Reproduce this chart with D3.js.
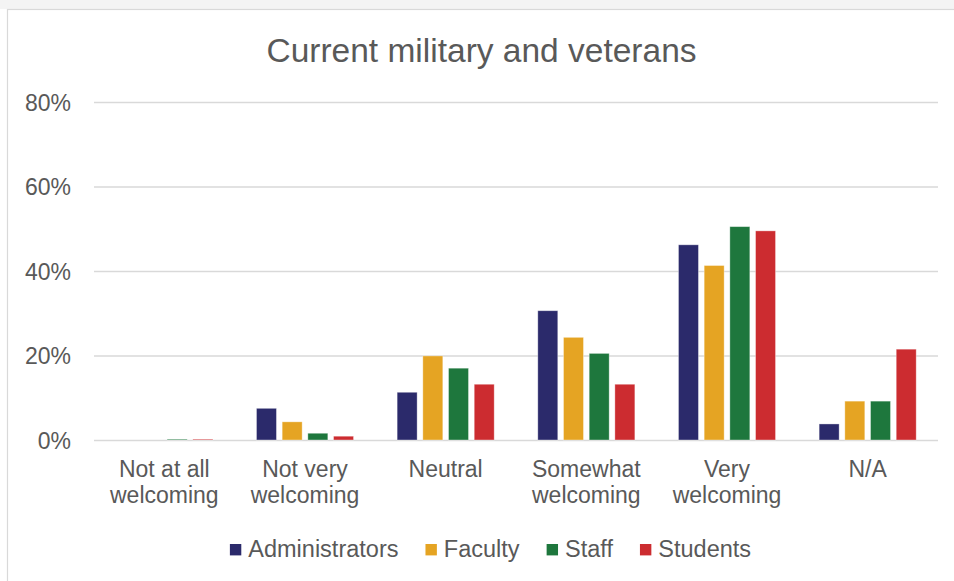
<!DOCTYPE html>
<html>
<head>
<meta charset="utf-8">
<script src="https://cdn.jsdelivr.net/npm/d3@7"></script>
<style>
  html, body { margin: 0; padding: 0; background: #ffffff; }
  svg { display: block; }
  text { font-family: "Liberation Sans", Arial, sans-serif; fill: #595959; }
</style>
</head>
<body>
<svg id="chart" width="954" height="581"></svg>
<script>
const title = "Current military and veterans";
const categories = [
  ["Not at all", "welcoming"],
  ["Not very", "welcoming"],
  ["Neutral"],
  ["Somewhat", "welcoming"],
  ["Very", "welcoming"],
  ["N/A"]
];
const seriesNames = ["Administrators", "Faculty", "Staff", "Students"];
const seriesColors = ["#2b2a6b", "#e5a423", "#1e773d", "#cc2c30"];
const administrators = [0, 7.5, 11.3, 30.6, 46.2, 3.8];
const faculty = [0, 4.3, 19.9, 24.3, 41.3, 9.2];
const staff = [0.2, 1.6, 17.0, 20.5, 50.5, 9.2];
const students = [0.2, 0.9, 13.2, 13.2, 49.5, 21.5];
const yTicks = [0, 20, 40, 60, 80];

const seriesValues = [administrators, faculty, staff, students];
const catKeys = categories.map(c => c.join(" "));

const svg = d3.select("#chart");
const W = 954, H = 581;

// background frame
svg.append("rect").attr("x", 0).attr("y", 0).attr("width", W).attr("height", H).attr("fill", "#ffffff");
svg.append("rect").attr("x", 0).attr("y", 0).attr("width", W).attr("height", 9).attr("fill", "#f4f4f4");
svg.append("rect").attr("x", 7.5).attr("y", 9.5).attr("width", W + 20).attr("height", H + 20)
  .attr("fill", "#ffffff").attr("stroke", "#d9d9d9").attr("stroke-width", 1.2);

const plotLeft = 94, plotRight = 938, plotTop = 102, plotBottom = 440;

const x0 = d3.scaleBand().domain(catKeys).range([plotLeft, plotRight])
  .paddingInner(0.31).paddingOuter(0.155);
const x1 = d3.scaleBand().domain(seriesNames).range([0, x0.bandwidth()])
  .paddingInner(0.222).paddingOuter(0);
const y = d3.scaleLinear().domain([0, 80]).range([plotBottom, plotTop]);

// title
svg.append("text").attr("x", 481.5).attr("y", 61.5).attr("text-anchor", "middle")
  .style("font-size", "33.5px").text(title);

// gridlines
const yAxis = d3.axisLeft(y).tickValues(yTicks).tickSize(-(plotRight - plotLeft))
  .tickFormat(d => d + "%").tickPadding(23);
const gy = svg.append("g").attr("transform", `translate(${plotLeft},0)`).call(yAxis);
gy.select(".domain").remove();
gy.selectAll(".tick line").attr("stroke", "#d9d9d9").attr("stroke-width", 1.4);
gy.selectAll(".tick text").style("font-size", "23px").style("font-family", "'Liberation Sans', Arial, sans-serif")
  .attr("fill", "#595959").attr("dy", "8").attr("x", -(plotLeft - 71));

// bars
const groups = svg.append("g").selectAll("g").data(catKeys).join("g")
  .attr("transform", d => `translate(${x0(d)},0)`);
groups.selectAll("rect").data((d, ci) => seriesNames.map((s, si) => ({ s, si, v: seriesValues[si][ci] })))
  .join("rect")
  .attr("x", d => x1(d.s))
  .attr("width", x1.bandwidth())
  .attr("y", d => y(d.v))
  .attr("height", d => y(0) - y(d.v))
  .attr("fill", d => seriesColors[d.si])
  .attr("stroke", "#ffffff").attr("stroke-opacity", 0.45).attr("stroke-width", 0.8);

// category labels
const xAxis = svg.append("g");
categories.forEach((lines, i) => {
  const cx = x0(catKeys[i]) + x0.bandwidth() / 2;
  const t = xAxis.append("text").attr("text-anchor", "middle").style("font-size", "23px");
  lines.forEach((ln, j) => {
    t.append("tspan").attr("x", cx).attr("y", 476.5 + j * 26).text(ln);
  });
});

// legend
const legend = svg.append("g");
const items = seriesNames.map((name, i) => {
  const g = legend.append("g");
  g.append("rect").attr("width", 11.4).attr("height", 11.4).attr("y", 544).attr("fill", seriesColors[i]);
  const t = g.append("text").attr("x", 18.4).attr("y", 557).style("font-size", "23.5px").text(name);
  const w = 18.4 + t.node().getComputedTextLength();
  return { g, w };
});
const gap = 27;
const total = d3.sum(items, d => d.w) + gap * (items.length - 1);
let lx = 490.5 - total / 2;
items.forEach(it => {
  it.g.attr("transform", `translate(${lx},0)`);
  lx += it.w + gap;
});
</script>
</body>
</html>
